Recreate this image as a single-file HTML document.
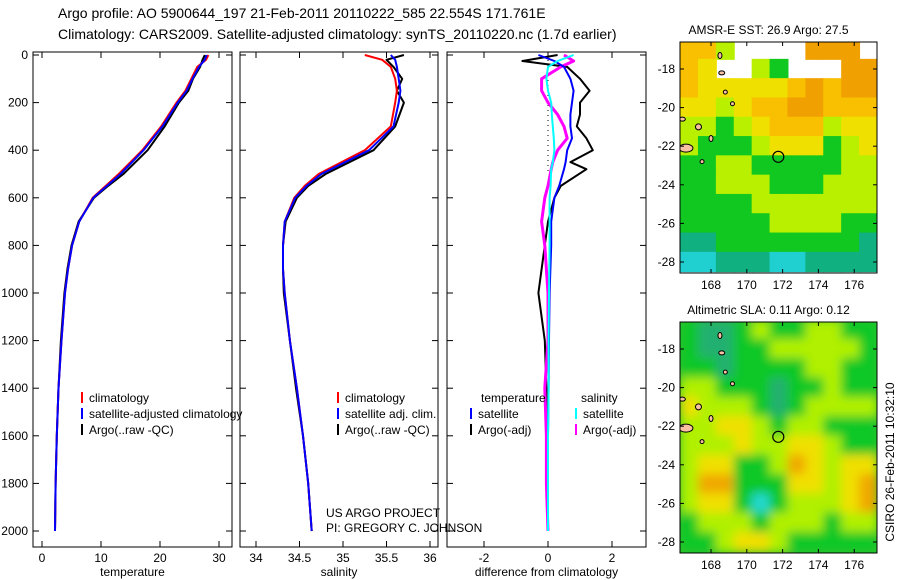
<!DOCTYPE html>
<html><head><meta charset="utf-8"><style>
body{margin:0;background:#fff}
svg{display:block;font-family:"Liberation Sans",sans-serif}
</style></head><body>
<svg id="fig" width="900" height="580" viewBox="0 0 900 580">
<text x="58" y="18" font-size="14">Argo profile: AO 5900644_197 21-Feb-2011 20110222_585 22.554S 171.761E</text>
<text x="58" y="39" font-size="14">Climatology: CARS2009. Satellite-adjusted climatology: synTS_20110220.nc (1.7d earlier)</text>
<g id="plots"></g>
</svg>
<script>
// ---- data ----
const depths = [0,20,50,100,150,200,300,400,500,550,600,700,800,900,1000,1200,1400,1600,1800,2000];
const tempClim = [28.2,27.8,26.3,25.3,24.3,22.8,20.2,17.0,13.0,10.8,8.6,6.3,5.1,4.4,3.9,3.3,2.8,2.5,2.3,2.2];
const tempSat  = [27.9,27.6,26.6,25.5,24.5,23.0,20.4,17.2,13.3,11.0,8.7,6.3,5.1,4.4,3.9,3.3,2.8,2.5,2.3,2.2];
const tempArgo = [27.6,27.2,26.8,25.6,24.8,23.2,20.8,17.9,13.8,11.2,8.8,6.2,5.0,4.3,3.8,3.2,2.8,2.5,2.3,2.2];
const salClim = [35.25,35.45,35.55,35.6,35.62,35.6,35.55,35.25,34.72,34.56,34.44,34.33,34.31,34.31,34.33,34.39,34.47,34.54,34.6,34.64];
const salSat  = [35.55,35.6,35.62,35.64,35.66,35.64,35.58,35.3,34.75,34.58,34.45,34.33,34.31,34.31,34.33,34.39,34.47,34.54,34.6,34.64];
const salArgo = [35.7,35.5,35.58,35.68,35.62,35.7,35.6,35.35,34.8,34.6,34.47,34.34,34.31,34.31,34.32,34.39,34.46,34.54,34.6,34.64];
const diffDepths = [0,25,50,100,150,200,250,300,350,400,450,480,550,600,700,800,1000,1200,1400,1600,1800,2000];
const dTempSat  = [-0.3,0.2,0.5,0.7,0.8,0.75,0.7,0.7,0.75,0.6,0.55,0.5,0.35,0.2,0.1,0.1,0.05,0.03,0.02,0.0,0.0,0.0];
const dTempArgo = [0.3,-0.8,0.6,1.0,1.3,1.0,1.0,0.9,1.2,1.4,0.7,1.2,0.4,0.2,0.0,-0.1,-0.3,-0.1,-0.05,-0.05,0.0,0.0];
const dSalSat   = [0.8,0.3,0.0,-0.05,0.0,0.1,0.12,0.15,0.18,0.2,0.15,0.1,0.08,0.05,0.05,0.05,0.03,0.02,0.02,0.0,0.0,0.0];
const dSalArgo  = [0.5,0.8,0.4,-0.2,-0.2,0.0,0.3,0.5,0.6,0.3,0.15,0.1,0.0,-0.1,-0.2,-0.1,0.0,0.0,-0.1,-0.05,-0.05,0.0];
const depthTicks = [0,200,400,600,800,1000,1200,1400,1600,1800,2000];
const tempTicks = [0,10,20,30];
const salTicks = [34,34.5,35,35.5,36];
const diffTicks = [-2,0,2];
const sstGrid = [
 [5,5,3,-1,-1,-1,-1,6,6,6,-1],
 [5,4,-1,-1,3,2,-1,-1,-1,6,6],
 [5,4,4,4,4,4,5,6,5,6,6],
 [4,4,3,4,5,5,6,6,5,5,5],
 [3,3,2,3,4,5,5,5,3,4,4],
 [3,2,2,2,3,4,4,4,2,3,4],
 [2,2,3,3,2,2,2,2,2,3,3],
 [2,2,3,3,3,2,2,2,3,3,3],
 [2,2,2,2,3,3,3,3,3,3,3],
 [2,2,2,2,2,3,3,3,3,2,2],
 [1,1,2,2,2,2,2,2,2,2,1],
 [0,0,1,1,1,0,0,1,1,1,1]];
const slaGrid = [
 [2,1,1,2,3,2,2,3,3,2,2],
 [2,1,1,2,2,3,3,3,3,3,2],
 [2,2,1,2,2,2,2,3,3,2,2],
 [3,3,2,2,2,1,2,2,3,2,2],
 [4,3,3,3,2,1,2,3,3,3,3],
 [3,3,4,4,3,2,3,3,2,2,2],
 [3,3,3,4,3,3,4,4,3,2,2],
 [3,4,4,2,2,3,5,4,3,4,4],
 [3,5,5,2,2,2,4,4,3,4,5],
 [3,4,4,2,0,2,3,3,3,4,5],
 [2,3,3,3,2,3,3,3,2,3,3],
 [2,2,3,4,4,3,2,2,2,2,2]];
const lonTicks = [168,170,172,174,176];
const latTicks = [-18,-20,-22,-24,-26,-28];
const floatLon = 171.76, floatLat = -22.55;

const NS="http://www.w3.org/2000/svg";
const root=document.getElementById('plots');
function mk(tag,attrs,parent){const e=document.createElementNS(NS,tag);for(const k in attrs)e.setAttribute(k,attrs[k]);(parent||root).appendChild(e);return e;}
const yD = d => 55 + d*0.238;

function panel(x0,x1,xs,ticks,fmt,label,name){
  const g=mk('g',{});
  
  
  const r=mk('rect',{x:x0,y:52,width:x1-x0,height:495,fill:'none',stroke:'#000','stroke-width':1},g);
  
  
  ticks.forEach(t=>{const x=xs(t);
    mk('line',{x1:x,x2:x,y1:547,y2:541,stroke:'#000'},g);
    mk('line',{x1:x,x2:x,y1:52,y2:58,stroke:'#000'},g);
    const tx=mk('text',{x:x,y:562,'font-size':12,'text-anchor':'middle'},g);tx.textContent=fmt(t);
    
    
  });
  depthTicks.forEach(d=>{const y=yD(d);
    mk('line',{x1:x0,x2:x0+6,y1:y,y2:y,stroke:'#000'},g);
    mk('line',{x1:x1,x2:x1-6,y1:y,y2:y,stroke:'#000'},g);
  });
  const lb=mk('text',{x:(x0+x1)/2,y:576,'font-size':12,'text-anchor':'middle'},g);lb.textContent=label;
  
  
  return g;
}
function line(g,xs,vals,ds,color,w,name){
  const p=vals.map((v,i)=>(i?'L':'M')+xs(v).toFixed(1)+','+yD(ds[i]).toFixed(1)).join('');
  const e=mk('path',{d:p,fill:'none',stroke:color,'stroke-width':w,'stroke-linejoin':'round'},g);
  
  
}
function legend(g,x,y,items){
  items.forEach((it,i)=>{const yy=y+i*16;
    mk('line',{x1:x,x2:x,y1:yy-10,y2:yy+1,stroke:it[1],'stroke-width':2},g);
    const t=mk('text',{x:x+7,y:yy,'font-size':12},g);t.textContent=it[0];
    
    
  });
}
depthTicks.forEach(d=>{const t=mk('text',{x:28,y:yD(d)+4,'font-size':12,'text-anchor':'end'});t.textContent=d;
  
  });

// temperature
const xT=v=>42+v*5.9;
const g1=panel(33,232,xT,tempTicks,t=>t,'temperature','temperature-panel');
line(g1,xT,tempArgo,depths,'#000',2,'temp-argo-line');
line(g1,xT,tempClim,depths,'#f00',2,'temp-climatology-line');
line(g1,xT,tempSat,depths,'#00f',2,'temp-satellite-line');
legend(g1,82,402,[['climatology','#f00'],['satellite-adjusted climatology','#00f'],['Argo(..raw -QC)','#000']]);
// salinity
const xS=v=>343+(v-35)*87;
const g2=panel(240,438,xS,salTicks,t=>t,'salinity','salinity-panel');
line(g2,xS,salArgo,depths,'#000',2,'sal-argo-line');
line(g2,xS,salClim,depths,'#f00',2,'sal-climatology-line');
line(g2,xS,salSat,depths,'#00f',2,'sal-satellite-line');
legend(g2,338,402,[['climatology','#f00'],['satellite adj. clim.','#00f'],['Argo(..raw -QC)','#000']]);
const pj=mk('text',{x:326,y:517,'font-size':12},g2);pj.textContent='US ARGO PROJECT';

const pi=mk('text',{x:326,y:532,'font-size':12},g2);pi.textContent='PI: GREGORY C. JOHNSON';

// difference
const xDf=v=>548+v*32;
const g3=panel(447,646,xDf,diffTicks,t=>t,'difference from climatology','difference-panel');
mk('line',{x1:xDf(0),x2:xDf(0),y1:yD(0),y2:yD(500),stroke:'#000','stroke-dasharray':'1,4'},g3);
line(g3,xDf,dTempArgo,diffDepths,'#000',2,'diff-temp-argo-line');
line(g3,xDf,dSalArgo,diffDepths,'#f0f',3,'diff-sal-argo-line');
line(g3,xDf,dTempSat,diffDepths,'#00f',2,'diff-temp-satellite-line');
line(g3,xDf,dSalSat,diffDepths,'#0ff',2,'diff-sal-satellite-line');
const th=mk('text',{x:481,y:402,'font-size':12},g3);th.textContent='temperature';

const sh=mk('text',{x:581,y:402,'font-size':12},g3);sh.textContent='salinity';

legend(g3,471,418,[['satellite','#00f'],['Argo(-adj)','#000']]);
legend(g3,576,418,[['satellite','#0ff'],['Argo(-adj)','#f0f']]);

// maps
const sstCol=['#20d0d0','#10b080','#10c820','#b8f000','#f0e000','#f8c000','#f0a000','#e08010'];
const slaCol=['#20d8d0','#20b070','#10c828','#b0f000','#f0e000','#f0a800'];
function map(y0,grid,cols,title,name,blur){
  const x0=680,w=197,h=231;
  const lx=v=>711+(v-168)*17.9, ly=v=>y0+27+(-18-v)*19.3;
  const g=mk('g',{});
  
  
  const cid='c'+name;
  const cp=mk('clipPath',{id:cid},g);mk('rect',{x:x0,y:y0,width:w,height:h},cp);
  const cg=mk('g',{'clip-path':'url(#'+cid+')'},g);
  if(blur) mk('rect',{x:x0,y:y0,width:w,height:h,fill:'#30c030'},cg);
  const fg=mk('g',blur?{filter:'url(#bl)'}:{},cg);
  grid.forEach((row,r)=>row.forEach((v,c)=>{
    if(v<0)return;
    const cell=mk('rect',{x:lx(166.3+c)-0.5,y:ly(-16.5-r)-0.5,width:18.9,height:20.3,fill:cols[v]},fg);
    
    
  }));
  [[168.5,-17.3,2,3],[168.6,-18.2,3,2],[168.8,-19.2,2,2],[169.2,-19.8,2,2],[167.3,-21,3,3],[168,-21.6,2,3],[166.6,-22.1,7,4],[167.5,-22.8,2,2],[166.4,-20.6,3,2]].forEach(a=>{
    const l=mk('ellipse',{cx:lx(a[0]),cy:ly(a[1]),rx:a[2],ry:a[3],fill:'#f8c0a0',stroke:'#000','stroke-width':1},cg);
    
    
  });
  const f=mk('circle',{cx:lx(floatLon),cy:ly(floatLat),r:5.5,fill:'none',stroke:'#000','stroke-width':1.2},g);
  
  
  mk('rect',{x:x0,y:y0,width:w,height:h,fill:'none',stroke:'#000'},g);
  lonTicks.forEach(v=>{const x=lx(v);
    mk('line',{x1:x,x2:x,y1:y0+h,y2:y0+h-4,stroke:'#000'},g);mk('line',{x1:x,x2:x,y1:y0,y2:y0+4,stroke:'#000'},g);
    const t=mk('text',{x:x,y:y0+h+16,'font-size':12,'text-anchor':'middle'},g);t.textContent=v;
    });
  latTicks.forEach(v=>{const y=ly(v);
    mk('line',{x1:x0,x2:x0+4,y1:y,y2:y,stroke:'#000'},g);mk('line',{x1:x0+w,x2:x0+w-4,y1:y,y2:y,stroke:'#000'},g);
    const t=mk('text',{x:x0-5,y:y+4,'font-size':12,'text-anchor':'end'},g);t.textContent=v;
    });
  const tt=mk('text',{x:x0+w/2-10,y:y0-8,'font-size':12,'text-anchor':'middle'},g);tt.textContent=title;
  
}
const defs=mk('defs',{});const fl=mk('filter',{id:'bl',x:'-5%',y:'-5%',width:'110%',height:'110%'},defs);
mk('feGaussianBlur',{stdDeviation:5},fl);
map(42,sstGrid,sstCol,'AMSR-E SST: 26.9 Argo: 27.5','sst-map',false);
map(322,slaGrid,slaCol,'Altimetric SLA: 0.11 Argo: 0.12','sla-map',true);
const cs=mk('text',{x:0,y:0,'font-size':12,'text-anchor':'middle',transform:'translate(894,462) rotate(-90)'});
cs.textContent='CSIRO 26-Feb-2011 10:32:10';

</script>
</body></html>
